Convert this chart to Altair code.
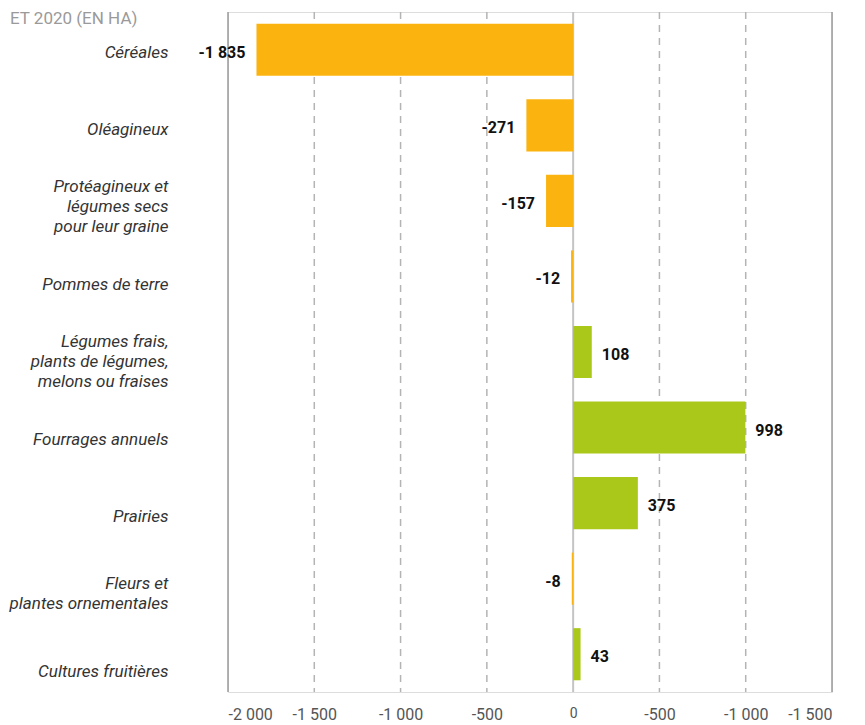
import altair as alt
import pandas as pd

categories = [
    "Céréales",
    "Oléagineux",
    "Protéagineux et\nlégumes secs\npour leur graine",
    "Pommes de terre",
    "Légumes frais,\nplants de légumes,\nmelons ou fraises",
    "Fourrages annuels",
    "Prairies",
    "Fleurs et \nplantes ornementales",
    "Cultures fruitières",
]
values = [-1835, -271, -157, -12, 108, 998, 375, -8, 43]

tick_values = [-2000, -1500, -1000, -500, 0, 500, 1000, 1500]
tick_labels = ["-2 000", "-1 500", "-1 000", "-500", "0", "-500", "-1 000", "-1 500"]
solid_grid = [-2000, 1500]
zero_grid = [0]
dashed_grid = [-1500, -1000, -500, 500, 1000]
title_fragment = "ET 2020 (EN HA)"

ORANGE = "#FBB40F"
GREEN = "#AAC81A"
FONT = "Liberation Sans Narrow, Arial Narrow, Roboto, sans-serif"
LINE_H = 20

df = pd.DataFrame({
    "cat": categories,
    "val": values,
    "lab": [f"{v:,}".replace(",", " ") for v in values],
})

label_map = "{" + ", ".join(f"'{v}': '{t}'" for v, t in zip(tick_values, tick_labels)) + "}"
label_expr = f"{label_map}[datum.value + '']"

# y-label vertical offsets: centre multi-line blocks and follow the slight downward drift
conds = []
for i, c in enumerate(categories):
    lines = c.split("\n")
    first = lines[0]
    off = round(3 + 1.8 * i - (len(lines) - 1) * LINE_H / 2, 1)
    conds.append({"test": f"split(datum.value, '\\n')[0] == '{first}'", "value": off})
label_offset = {"condition": conds, "value": 0}

xscale = alt.Scale(domain=[-2000, 1500], nice=False, zero=False)
yscale = alt.Scale(domain=categories, paddingInner=0.31, paddingOuter=0.155)

x_axis = alt.Axis(
    title=None, values=tick_values, labelExpr=label_expr, grid=False,
    domain=False, ticks=False,
    labelFontSize={"condition": {"test": "datum.value == 0", "value": 14}, "value": 16},
    labelColor="#555555", labelPadding=14, labelFont=FONT,
)
y_axis = alt.Axis(
    title=None, domain=False, ticks=False, labelFontStyle="italic",
    labelFontSize=17, labelColor="#333333", labelPadding=60,
    labelLineHeight=LINE_H, labelLimit=0, labelFont=FONT,
    labelOffset=label_offset,
    labelExpr="split(datum.label, '\\n')",
)

def xq(field):
    return alt.X(field, type="quantitative", scale=xscale, axis=x_axis)

def yn():
    return alt.Y("cat:N", sort=categories, scale=yscale, axis=y_axis)

solid = alt.Chart(pd.DataFrame({"v": solid_grid})).mark_rule(
    color="#9a9a9a", strokeWidth=1.5
).encode(x=xq("v"), y=alt.value(0), y2=alt.value(680))

zero = alt.Chart(pd.DataFrame({"v": zero_grid})).mark_rule(
    color="#c4c4c4", strokeWidth=2
).encode(x=xq("v"), y=alt.value(0), y2=alt.value(680))

dashed = alt.Chart(pd.DataFrame({"v": dashed_grid})).mark_rule(
    color="#b4b4b4", strokeWidth=1.5, strokeDash=[7, 6]
).encode(x=xq("v"), y=alt.value(0), y2=alt.value(680))

bars = alt.Chart(df).mark_bar().encode(
    y=yn(),
    x=xq("val"),
    x2=alt.datum(0),
    color=alt.condition("datum.val < 0", alt.value(ORANGE), alt.value(GREEN)),
)

neg_text = alt.Chart(df).transform_filter("datum.val < 0").mark_text(
    align="right", baseline="middle", dx=-11, dy=3, fontSize=16, fontWeight="bold",
    font=FONT, color="#111111"
).encode(y=yn(), x=xq("val"), text="lab:N")

pos_text = alt.Chart(df).transform_filter("datum.val >= 0").mark_text(
    align="left", baseline="middle", dx=10, dy=3, fontSize=16, fontWeight="bold",
    font=FONT, color="#111111"
).encode(y=yn(), x=xq("val"), text="lab:N")

title = alt.Chart(pd.DataFrame({"t": [title_fragment]})).mark_text(
    align="left", baseline="alphabetic", fontSize=17, color="#9a9a9a", font=FONT
).encode(x=alt.value(-218), y=alt.value(12), text="t:N")

chart = alt.layer(solid, zero, dashed, bars, neg_text, pos_text, title).properties(
    width=604, height=680,
    padding={"left": 220, "top": 4, "right": 25, "bottom": 33},
    autosize=alt.AutoSizeParams(type="none"),
).configure_view(stroke=None).configure(font=FONT)

chart.save("out.html", embed_options={"renderer": "svg", "actions": False})
